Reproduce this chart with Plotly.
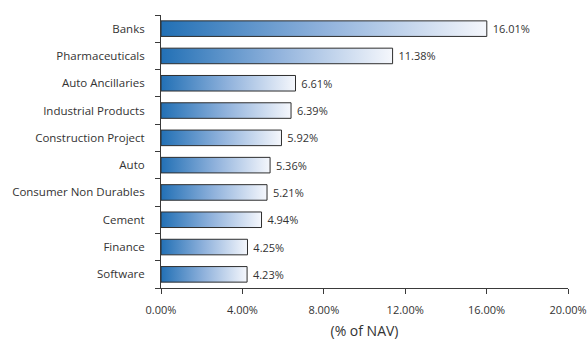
import plotly.graph_objects as go

# Sector allocation (% of NAV), listed top to bottom
sectors = [
    "Banks", "Pharmaceuticals", "Auto Ancillaries", "Industrial Products",
    "Construction Project", "Auto", "Consumer Non Durables", "Cement",
    "Finance", "Software",
]
weights = [16.01, 11.38, 6.61, 6.39, 5.92, 5.36, 5.21, 4.94, 4.25, 4.23]

x_ticks = [0, 4, 8, 12, 16, 20]

BAR_W = 0.57
FONT = "Open Sans"
TEXT = "#333333"
AXIS = "#3a3a3a"

# categorical positions: the last listed sector sits at index 0 (bottom)
order = list(reversed(sectors))
pos = {name: order.index(name) for name in sectors}

fig = go.Figure()

# gradient-filled bodies, drawn as closed shapes on a numeric axis
for name, w in zip(sectors, weights):
    i = pos[name]
    lo, hi = i - BAR_W / 2, i + BAR_W / 2
    fig.add_trace(go.Scatter(
        x=[0, w, w, 0, 0],
        y=[lo, lo, hi, hi, lo],
        mode="lines",
        line=dict(width=0),
        fill="toself",
        fillgradient=dict(
            type="horizontal",
            colorscale=[[0, "#2270b5"], [0.5, "#90b2dc"], [1, "#f5f7fc"]],
        ),
        hoverinfo="skip",
        showlegend=False,
        yaxis="y",
    ))

# outlines and value labels on the categorical axis
fig.add_trace(go.Bar(
    y=sectors,
    x=weights,
    orientation="h",
    width=BAR_W,
    marker=dict(color="rgba(0,0,0,0)", line=dict(color="#2e2e2e", width=1)),
    text=["\u00a0" + f"{w:.2f}%" for w in weights],
    textposition="outside",
    textfont=dict(family=FONT, size=11, color=TEXT),
    cliponaxis=False,
    showlegend=False,
    yaxis="y2",
))

fig.update_layout(
    width=588,
    height=345,
    margin=dict(l=161, r=20, t=15, b=57),
    paper_bgcolor="white",
    plot_bgcolor="white",
    font=dict(family=FONT, color=TEXT),
    xaxis=dict(
        range=[0, 20],
        tickvals=x_ticks,
        ticktext=[f"{v:.2f}%" for v in x_ticks],
        ticks="outside",
        ticklen=5,
        tickcolor=AXIS,
        showline=True,
        linecolor=AXIS,
        linewidth=1,
        showgrid=False,
        zeroline=False,
        automargin=False,
        ticklabelstandoff=7,
        tickfont=dict(size=11, color=TEXT),
        title=dict(text="(% of NAV)", font=dict(size=14, color=TEXT), standoff=9),
    ),
    yaxis=dict(
        range=[-0.5, len(sectors) - 0.5],
        visible=False,
        fixedrange=True,
    ),
    yaxis2=dict(
        overlaying="y",
        side="left",
        type="category",
        categoryorder="array",
        categoryarray=order,
        range=[-0.5, len(sectors) - 0.5],
        tickson="boundaries",
        ticks="outside",
        ticklen=5,
        tickcolor=AXIS,
        showline=True,
        linecolor=AXIS,
        linewidth=1,
        showgrid=False,
        automargin=False,
        ticklabelstandoff=13,
        tickfont=dict(size=11.5, color=TEXT),
    ),
)

fig.write_html("out.html")
